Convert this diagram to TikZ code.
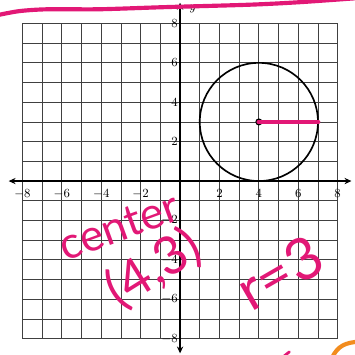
\documentclass[tikz,border=0pt]{standalone}
\usepackage{amsmath}
\usepackage{fontspec}
\newfontfamily\handfont{Lato}
\usetikzlibrary{arrows.meta}
\definecolor{inkpink}{RGB}{226,24,118}
\definecolor{inkorange}{RGB}{242,140,30}

\begin{document}
\begin{tikzpicture}[x=0.5cm,y=0.5cm,
    gridline/.style={black!75,line width=0.6pt},
    axis/.style={black,line width=0.9pt,{Stealth[length=5pt,width=4.5pt]}-{Stealth[length=5pt,width=4.5pt]}},
    ticklabel/.style={font=\fontsize{9}{9}\selectfont,inner sep=1.5pt},
    ink/.style={inkpink,line width=3pt,line cap=round},
    hand/.style={inkpink,font=\handfont\fontsize{#1}{#1}\selectfont,inner sep=0pt}]
    \clip (-9.14,-8.78) rectangle (8.88,9.19);
    \fill[white] (-9.14,-8.78) rectangle (8.88,9.19);
    \draw[gridline,step=0.5cm] (-8,-8) grid (8,8);
    \draw[axis] (-8.7,0)--(8.7,0);
    \draw[axis] (0,-8.75)--(0,9.05);
    \node[ticklabel,right] (ylab) at (0.35,8.75) {$y$};
    \foreach \v in {-8,-6,-4,-2,2,4,6,8}{
        \node[ticklabel,below] (xt\v) at (\v,-0.3) {$\v$};
        \node[ticklabel,left] (yt\v) at (0,\v) {$\v$};
    }
    \coordinate (ctr) at (4,3);
    \coordinate (rim) at (7,3);
    \draw[black,line width=1.2pt] (ctr) circle (3);
    \fill[black] (ctr) circle (0.18);
    \draw[ink,line width=3.5pt] (ctr)--(rim);

    \draw[ink] plot[smooth] coordinates {(-9.5,8.37) (-8.2,8.62) (-6.7,8.72) (-4.1,8.72) (-0.7,8.83) (3.5,8.95) (6.1,9.08) (9.2,9.3)};
    \node[hand=32,rotate=20] (word) at (-3.1,-2.3) {center};
    \node[hand=38,rotate=32] (point) at (-1.35,-4.45) {(4,3)};
    \node[hand=42,rotate=30] (radius) at (5.05,-4.65) {r=3};
    \draw[ink,line width=2pt] (5.2,-8.95)--(5.55,-8.67);
    \draw[inkorange,line width=3pt] (7.7,-9) .. controls (8.0,-8.35) and (8.4,-8.2) .. (9.1,-8.15);
\end{tikzpicture}
\end{document}
